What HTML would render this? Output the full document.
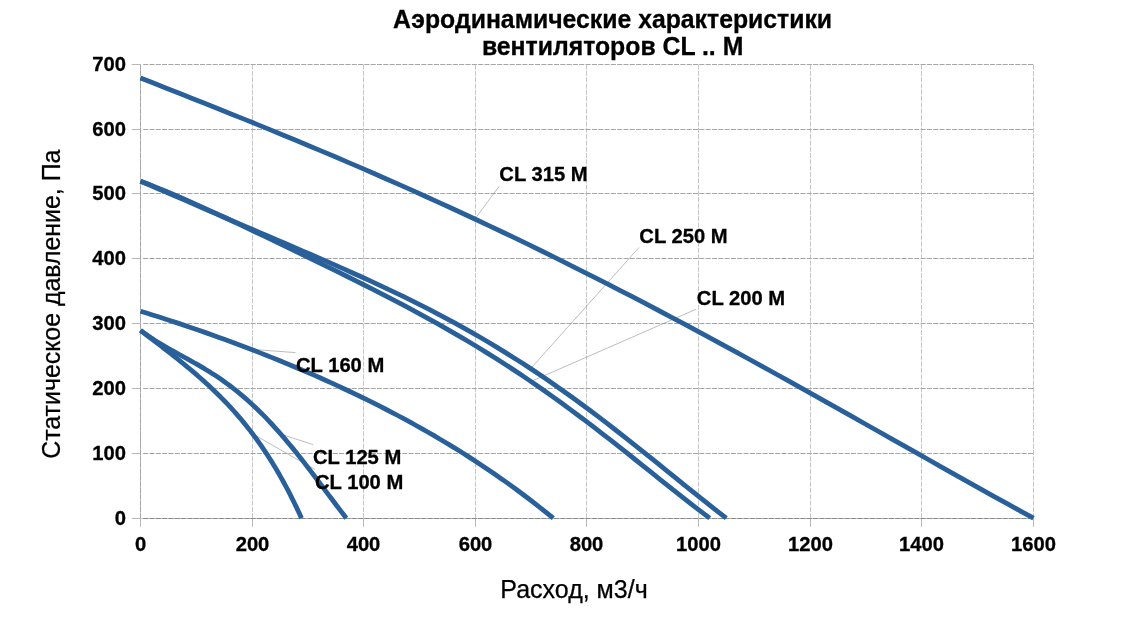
<!DOCTYPE html>
<html lang="ru"><head><meta charset="utf-8">
<title>Аэродинамические характеристики вентиляторов CL .. M</title>
<style>
html,body{margin:0;padding:0;background:#fff;}
body{width:1141px;height:634px;overflow:hidden;}
svg{display:block;}
text{font-family:"Liberation Sans",sans-serif;fill:#000;}
</style></head><body>
<svg width="1141" height="634" viewBox="0 0 1141 634">
<rect x="0" y="0" width="1141" height="634" fill="#fff"/>
<g stroke="#c6c6c6" stroke-width="1" fill="none">
<line x1="140.5" y1="64.0" x2="140.5" y2="519.0"/>
<line x1="140.0" y1="518.5" x2="1034.0" y2="518.5"/>
</g>
<g stroke="#b8b8b8" stroke-width="1" fill="none">
<line x1="140.5" y1="519.0" x2="140.5" y2="526.8"/>
<line x1="252.5" y1="519.0" x2="252.5" y2="526.8"/>
<line x1="363.5" y1="519.0" x2="363.5" y2="526.8"/>
<line x1="475.5" y1="519.0" x2="475.5" y2="526.8"/>
<line x1="586.5" y1="519.0" x2="586.5" y2="526.8"/>
<line x1="698.5" y1="519.0" x2="698.5" y2="526.8"/>
<line x1="810.5" y1="519.0" x2="810.5" y2="526.8"/>
<line x1="921.5" y1="519.0" x2="921.5" y2="526.8"/>
<line x1="1033.5" y1="519.0" x2="1033.5" y2="526.8"/>
<line x1="131.7" y1="518.5" x2="140.0" y2="518.5"/>
<line x1="131.7" y1="453.5" x2="140.0" y2="453.5"/>
<line x1="131.7" y1="388.5" x2="140.0" y2="388.5"/>
<line x1="131.7" y1="323.5" x2="140.0" y2="323.5"/>
<line x1="131.7" y1="258.5" x2="140.0" y2="258.5"/>
<line x1="131.7" y1="193.5" x2="140.0" y2="193.5"/>
<line x1="131.7" y1="129.5" x2="140.0" y2="129.5"/>
<line x1="131.7" y1="64.5" x2="140.0" y2="64.5"/>
</g>
<g stroke="#c6c6c6" stroke-width="1" stroke-dasharray="5.1 1.22" fill="none">
<line x1="252.5" y1="64.5" x2="252.5" y2="518.5"/>
<line x1="363.5" y1="64.5" x2="363.5" y2="518.5"/>
<line x1="475.5" y1="64.5" x2="475.5" y2="518.5"/>
<line x1="586.5" y1="64.5" x2="586.5" y2="518.5"/>
<line x1="698.5" y1="64.5" x2="698.5" y2="518.5"/>
<line x1="810.5" y1="64.5" x2="810.5" y2="518.5"/>
<line x1="921.5" y1="64.5" x2="921.5" y2="518.5"/>
<line x1="1033.5" y1="64.5" x2="1033.5" y2="518.5"/>
</g>
<g stroke="#a6a6a6" stroke-width="1" stroke-dasharray="5.1 1.22" fill="none">
<line x1="143.15" y1="453.5" x2="1033.5" y2="453.5"/>
<line x1="143.15" y1="388.5" x2="1033.5" y2="388.5"/>
<line x1="143.15" y1="323.5" x2="1033.5" y2="323.5"/>
<line x1="143.15" y1="258.5" x2="1033.5" y2="258.5"/>
<line x1="143.15" y1="193.5" x2="1033.5" y2="193.5"/>
<line x1="143.15" y1="129.5" x2="1033.5" y2="129.5"/>
<line x1="143.15" y1="64.5" x2="1033.5" y2="64.5"/>
<line x1="140.5" y1="64.5" x2="140.5" y2="518.5"/>
</g>
<g stroke="#8a8a8a" stroke-width="1" stroke-dasharray="5.1 1.22" fill="none">
<line x1="143.15" y1="518.5" x2="1033.5" y2="518.5"/>
</g>
<g stroke="#909090" stroke-width="0.6" fill="none">
<line x1="499.2" y1="186.2" x2="475.7" y2="218.0"/>
<line x1="639.0" y1="247.5" x2="531.4" y2="367.8"/>
<line x1="696.2" y1="309.2" x2="532.0" y2="381.0"/>
<line x1="295.5" y1="352.6" x2="252.5" y2="349.4"/>
<line x1="313.1" y1="444.6" x2="282.8" y2="434.8"/>
<line x1="314.9" y1="469.5" x2="255.2" y2="435.3"/>
</g>
<g stroke="#2A6099" stroke-width="4.8" fill="none" stroke-linejoin="round">
<path d="M140.50 330.40 L142.83 332.17 L145.17 333.95 L147.50 335.72 L149.83 337.50 L152.17 339.28 L154.50 341.06 L156.83 342.85 L159.17 344.64 L161.50 346.43 L163.83 348.23 L166.17 350.04 L168.50 351.86 L170.83 353.69 L173.17 355.52 L175.50 357.37 L177.83 359.23 L180.17 361.10 L182.50 362.99 L184.83 364.89 L187.17 366.81 L189.50 368.75 L191.83 370.70 L194.17 372.68 L196.50 374.68 L198.83 376.70 L201.17 378.75 L203.50 380.83 L205.83 382.93 L208.17 385.06 L210.50 387.23 L212.83 389.43 L215.17 391.66 L217.50 393.93 L219.83 396.24 L222.17 398.59 L224.50 400.98 L226.83 403.41 L229.17 405.89 L231.50 408.42 L233.83 411.00 L236.17 413.63 L238.50 416.32 L240.83 419.06 L243.17 421.86 L245.50 424.73 L247.83 427.65 L250.17 430.64 L252.50 433.70 L254.83 436.83 L257.17 440.03 L259.50 443.31 L261.83 446.66 L264.17 450.10 L266.50 453.61 L268.83 457.22 L271.17 460.91 L273.50 464.69 L275.83 468.56 L278.17 472.54 L280.50 476.61 L282.83 480.78 L285.17 485.06 L287.50 489.45 L289.83 493.94 L292.17 498.55 L294.50 503.28 L296.83 508.13 L299.17 513.10 L301.50 518.20"/>
<path d="M140.50 330.40 L143.48 332.64 L146.47 334.78 L149.45 336.84 L152.43 338.82 L155.41 340.73 L158.40 342.59 L161.38 344.39 L164.36 346.14 L167.34 347.86 L170.33 349.55 L173.31 351.21 L176.29 352.86 L179.27 354.49 L182.26 356.13 L185.24 357.76 L188.22 359.40 L191.20 361.06 L194.19 362.73 L197.17 364.43 L200.15 366.15 L203.13 367.91 L206.12 369.70 L209.10 371.53 L212.08 373.41 L215.07 375.34 L218.05 377.32 L221.03 379.35 L224.01 381.44 L227.00 383.59 L229.98 385.80 L232.96 388.07 L235.94 390.41 L238.93 392.82 L241.91 395.30 L244.89 397.85 L247.87 400.47 L250.86 403.16 L253.84 405.92 L256.82 408.75 L259.80 411.66 L262.79 414.64 L265.77 417.69 L268.75 420.81 L271.73 424.00 L274.72 427.26 L277.70 430.58 L280.68 433.97 L283.67 437.42 L286.65 440.93 L289.63 444.50 L292.61 448.12 L295.60 451.80 L298.58 455.52 L301.56 459.29 L304.54 463.11 L307.53 466.96 L310.51 470.84 L313.49 474.75 L316.47 478.69 L319.46 482.65 L322.44 486.62 L325.42 490.60 L328.40 494.58 L331.39 498.56 L334.37 502.53 L337.35 506.49 L340.33 510.42 L343.32 514.33 L346.30 518.20"/>
<path d="M140.50 311.20 L146.48 313.04 L152.47 314.92 L158.45 316.81 L164.43 318.73 L170.41 320.68 L176.40 322.65 L182.38 324.64 L188.36 326.66 L194.34 328.71 L200.33 330.78 L206.31 332.87 L212.29 334.99 L218.27 337.14 L224.26 339.31 L230.24 341.50 L236.22 343.72 L242.20 345.97 L248.19 348.25 L254.17 350.55 L260.15 352.88 L266.13 355.24 L272.12 357.63 L278.10 360.04 L284.08 362.49 L290.07 364.96 L296.05 367.47 L302.03 370.00 L308.01 372.57 L314.00 375.17 L319.98 377.81 L325.96 380.48 L331.94 383.18 L337.93 385.92 L343.91 388.70 L349.89 391.51 L355.87 394.36 L361.86 397.26 L367.84 400.19 L373.82 403.16 L379.80 406.18 L385.79 409.24 L391.77 412.35 L397.75 415.50 L403.73 418.70 L409.72 421.95 L415.70 425.24 L421.68 428.59 L427.67 431.99 L433.65 435.45 L439.63 438.95 L445.61 442.52 L451.60 446.14 L457.58 449.83 L463.56 453.57 L469.54 457.38 L475.53 461.25 L481.51 465.19 L487.49 469.19 L493.47 473.27 L499.46 477.41 L505.44 481.63 L511.42 485.92 L517.40 490.29 L523.39 494.73 L529.37 499.26 L535.35 503.87 L541.33 508.56 L547.32 513.34 L553.30 518.20"/>
<path d="M140.50 181.20 L148.75 184.35 L157.00 187.62 L165.25 191.00 L173.50 194.48 L181.75 198.04 L190.00 201.67 L198.24 205.36 L206.49 209.10 L214.74 212.89 L222.99 216.71 L231.24 220.57 L239.49 224.45 L247.74 228.35 L255.99 232.27 L264.24 236.20 L272.49 240.15 L280.74 244.11 L288.99 248.07 L297.24 252.05 L305.49 256.05 L313.73 260.05 L321.98 264.07 L330.23 268.11 L338.48 272.16 L346.73 276.24 L354.98 280.35 L363.23 284.48 L371.48 288.65 L379.73 292.85 L387.98 297.10 L396.23 301.39 L404.48 305.73 L412.73 310.12 L420.98 314.58 L429.22 319.09 L437.47 323.68 L445.72 328.34 L453.97 333.07 L462.22 337.89 L470.47 342.78 L478.72 347.77 L486.97 352.84 L495.22 358.00 L503.47 363.26 L511.72 368.62 L519.97 374.07 L528.22 379.63 L536.47 385.27 L544.71 391.02 L552.96 396.86 L561.21 402.80 L569.46 408.83 L577.71 414.95 L585.96 421.15 L594.21 427.43 L602.46 433.78 L610.71 440.19 L618.96 446.67 L627.21 453.19 L635.46 459.75 L643.71 466.33 L651.96 472.93 L660.20 479.53 L668.45 486.12 L676.70 492.67 L684.95 499.18 L693.20 505.61 L701.45 511.96 L709.70 518.20"/>
<path d="M140.50 181.20 L148.99 184.81 L157.48 188.44 L165.97 192.09 L174.46 195.75 L182.95 199.42 L191.44 203.09 L199.93 206.77 L208.42 210.44 L216.91 214.11 L225.40 217.77 L233.89 221.43 L242.38 225.08 L250.87 228.73 L259.36 232.37 L267.85 236.01 L276.34 239.66 L284.83 243.30 L293.32 246.95 L301.81 250.60 L310.30 254.27 L318.79 257.96 L327.28 261.66 L335.77 265.39 L344.26 269.15 L352.75 272.95 L361.24 276.78 L369.73 280.66 L378.22 284.58 L386.71 288.56 L395.20 292.60 L403.69 296.70 L412.18 300.87 L420.67 305.12 L429.16 309.44 L437.64 313.85 L446.13 318.35 L454.62 322.94 L463.11 327.62 L471.60 332.40 L480.09 337.29 L488.58 342.28 L497.07 347.38 L505.56 352.59 L514.05 357.91 L522.54 363.34 L531.03 368.88 L539.52 374.54 L548.01 380.32 L556.50 386.20 L564.99 392.19 L573.48 398.29 L581.97 404.49 L590.46 410.79 L598.95 417.19 L607.44 423.67 L615.93 430.23 L624.42 436.87 L632.91 443.58 L641.40 450.34 L649.89 457.14 L658.38 463.99 L666.87 470.85 L675.36 477.72 L683.85 484.58 L692.34 491.42 L700.83 498.22 L709.32 504.97 L717.81 511.63 L726.30 518.20"/>
<path d="M140.50 78.00 L153.44 83.08 L166.38 88.18 L179.33 93.28 L192.27 98.41 L205.21 103.55 L218.15 108.71 L231.09 113.90 L244.04 119.11 L256.98 124.35 L269.92 129.63 L282.86 134.94 L295.80 140.29 L308.75 145.68 L321.69 151.11 L334.63 156.58 L347.57 162.10 L360.51 167.66 L373.46 173.27 L386.40 178.93 L399.34 184.65 L412.28 190.41 L425.22 196.22 L438.17 202.09 L451.11 208.01 L464.05 213.99 L476.99 220.02 L489.93 226.11 L502.88 232.26 L515.82 238.45 L528.76 244.71 L541.70 251.02 L554.64 257.39 L567.59 263.81 L580.53 270.29 L593.47 276.82 L606.41 283.40 L619.36 290.04 L632.30 296.72 L645.24 303.46 L658.18 310.25 L671.12 317.08 L684.07 323.96 L697.01 330.89 L709.95 337.85 L722.89 344.86 L735.83 351.91 L748.78 358.99 L761.72 366.11 L774.66 373.26 L787.60 380.44 L800.54 387.64 L813.49 394.87 L826.43 402.13 L839.37 409.39 L852.31 416.68 L865.25 423.98 L878.20 431.28 L891.14 438.59 L904.08 445.90 L917.02 453.21 L929.96 460.51 L942.91 467.80 L955.85 475.08 L968.79 482.34 L981.73 489.58 L994.67 496.79 L1007.62 503.96 L1020.56 511.10 L1033.50 518.20"/>
</g>
<text transform="translate(126.0 525.0) scale(1 1.040)" font-size="20.20" font-weight="bold" text-anchor="end" stroke="#000" stroke-width="0.30">0</text>
<text transform="translate(126.0 460.0) scale(1 1.040)" font-size="20.20" font-weight="bold" text-anchor="end" stroke="#000" stroke-width="0.30">100</text>
<text transform="translate(126.0 395.0) scale(1 1.040)" font-size="20.20" font-weight="bold" text-anchor="end" stroke="#000" stroke-width="0.30">200</text>
<text transform="translate(126.0 330.0) scale(1 1.040)" font-size="20.20" font-weight="bold" text-anchor="end" stroke="#000" stroke-width="0.30">300</text>
<text transform="translate(126.0 265.0) scale(1 1.040)" font-size="20.20" font-weight="bold" text-anchor="end" stroke="#000" stroke-width="0.30">400</text>
<text transform="translate(126.0 200.0) scale(1 1.040)" font-size="20.20" font-weight="bold" text-anchor="end" stroke="#000" stroke-width="0.30">500</text>
<text transform="translate(126.0 136.0) scale(1 1.040)" font-size="20.20" font-weight="bold" text-anchor="end" stroke="#000" stroke-width="0.30">600</text>
<text transform="translate(126.0 71.0) scale(1 1.040)" font-size="20.20" font-weight="bold" text-anchor="end" stroke="#000" stroke-width="0.30">700</text>
<text transform="translate(140.5 550.8) scale(1 1.040)" font-size="20.20" font-weight="bold" text-anchor="middle" stroke="#000" stroke-width="0.30">0</text>
<text transform="translate(252.5 550.8) scale(1 1.040)" font-size="20.20" font-weight="bold" text-anchor="middle" stroke="#000" stroke-width="0.30">200</text>
<text transform="translate(363.5 550.8) scale(1 1.040)" font-size="20.20" font-weight="bold" text-anchor="middle" stroke="#000" stroke-width="0.30">400</text>
<text transform="translate(475.5 550.8) scale(1 1.040)" font-size="20.20" font-weight="bold" text-anchor="middle" stroke="#000" stroke-width="0.30">600</text>
<text transform="translate(586.5 550.8) scale(1 1.040)" font-size="20.20" font-weight="bold" text-anchor="middle" stroke="#000" stroke-width="0.30">800</text>
<text transform="translate(698.5 550.8) scale(1 1.040)" font-size="20.20" font-weight="bold" text-anchor="middle" stroke="#000" stroke-width="0.30">1000</text>
<text transform="translate(810.5 550.8) scale(1 1.040)" font-size="20.20" font-weight="bold" text-anchor="middle" stroke="#000" stroke-width="0.30">1200</text>
<text transform="translate(921.5 550.8) scale(1 1.040)" font-size="20.20" font-weight="bold" text-anchor="middle" stroke="#000" stroke-width="0.30">1400</text>
<text transform="translate(1033.5 550.8) scale(1 1.040)" font-size="20.20" font-weight="bold" text-anchor="middle" stroke="#000" stroke-width="0.30">1600</text>
<text transform="translate(499.3 180.7) scale(1 1.040)" font-size="20.20" font-weight="bold" stroke="#000" stroke-width="0.30">CL 315 M</text>
<text transform="translate(639.3 242.6) scale(1 1.040)" font-size="20.20" font-weight="bold" stroke="#000" stroke-width="0.30">CL 250 M</text>
<text transform="translate(696.8 304.6) scale(1 1.040)" font-size="20.20" font-weight="bold" stroke="#000" stroke-width="0.30">CL 200 M</text>
<text transform="translate(296.0 371.8) scale(1 1.040)" font-size="20.20" font-weight="bold" stroke="#000" stroke-width="0.30">CL 160 M</text>
<text transform="translate(313.0 463.5) scale(1 1.040)" font-size="20.20" font-weight="bold" stroke="#000" stroke-width="0.30">CL 125 M</text>
<text transform="translate(315.0 488.5) scale(1 1.040)" font-size="20.20" font-weight="bold" stroke="#000" stroke-width="0.30">CL 100 M</text>
<text transform="translate(612.6 28.2) scale(1 1.015)" font-size="24.80" font-weight="bold" text-anchor="middle" stroke="#000" stroke-width="0.30">Аэродинамические характеристики</text>
<text transform="translate(612.6 54.9) scale(1 1.015)" font-size="24.80" font-weight="bold" text-anchor="middle" stroke="#000" stroke-width="0.30">вентиляторов CL .. M</text>
<text transform="translate(574.0 597.7)" font-size="25.00" text-anchor="middle" stroke="#000" stroke-width="0.25">Расход, м3/ч</text>
<text transform="translate(60.3 304.2) rotate(-90) scale(1 1.020)" font-size="24.90" text-anchor="middle" stroke="#000" stroke-width="0.25">Статическое давление, Па</text>
</svg>
</body></html>
